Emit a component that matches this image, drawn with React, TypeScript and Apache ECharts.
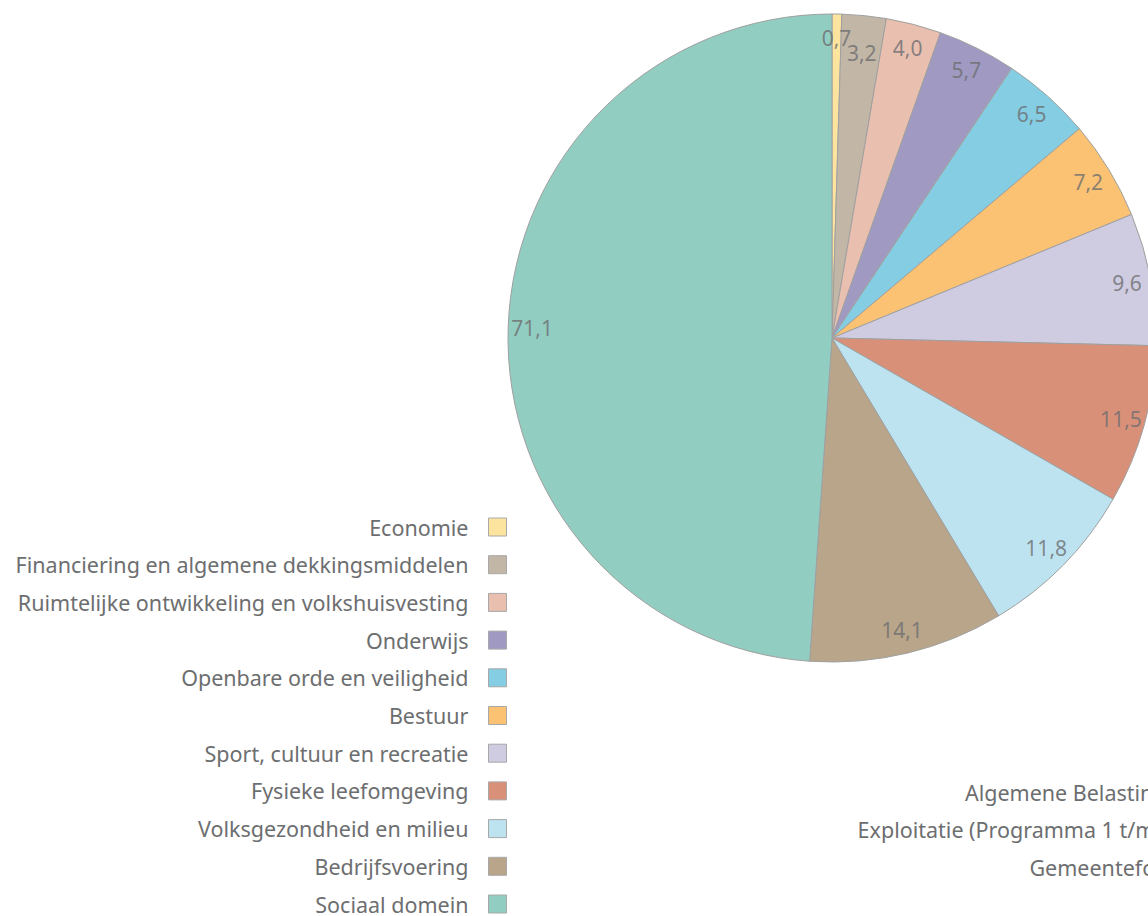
import React, { useEffect, useRef } from "react";
import * as echarts from "echarts";

const categories = [
  "Economie",
  "Financiering en algemene dekkingsmiddelen",
  "Ruimtelijke ontwikkeling en volkshuisvesting",
  "Onderwijs",
  "Openbare orde en veiligheid",
  "Bestuur",
  "Sport, cultuur en recreatie",
  "Fysieke leefomgeving",
  "Volksgezondheid en milieu",
  "Bedrijfsvoering",
  "Sociaal domein",
];
const values = [0.7, 3.2, 4.0, 5.7, 6.5, 7.2, 9.6, 11.5, 11.8, 14.1, 71.1];
const colors = [
  "#fde49e",
  "#c2b6a6",
  "#e9c0b0",
  "#a09ac2",
  "#84cde3",
  "#fbc273",
  "#cfcbe1",
  "#d99078",
  "#bde3f0",
  "#b8a58a",
  "#92cdc2",
];
const otherLegend = [
  "Algemene Belastingen",
  "Exploitatie (Programma 1 t/m 10)",
  "Gemeentefonds",
];

const TEXT = "#6d6e70";
const FONT = "Noto Sans";

export default function App() {
  const ref = useRef<HTMLDivElement>(null);
  useEffect(() => {
    document.body.style.margin = "0";
    const chart = echarts.init(ref.current!, null, { renderer: "svg" });
    const rowY = [792, 829, 867];
    const total = values.reduce((a, b) => a + b, 0);
    const mids: number[] = [];
    let acc = 0;
    values.forEach((v) => {
      mids.push(acc + v / 2);
      acc += v;
    });
    const center = [832, 338];
    const R = 324;
    const placed: any[] = [];
    chart.setOption({
      animation: false,
      polar: { center, radius: R },
      angleAxis: {
        type: "value",
        min: 0,
        max: total,
        startAngle: 90,
        clockwise: true,
        show: false,
      },
      radiusAxis: { type: "value", min: 0, max: R, show: false },
      legend: {
        orient: "vertical",
        align: "right",
        right: 641,
        top: 516,
        height: 440,
        padding: 0,
        itemWidth: 18,
        itemHeight: 18,
        itemGap: 15.7,
        icon: "rect",
        data: categories,
        itemStyle: { borderColor: "#a8a8a8", borderWidth: 1 },
        textStyle: {
          fontFamily: FONT,
          fontSize: 21.5,
          color: TEXT,
          lineHeight: 18,
          padding: [0, 15, 0, 0],
        },
      },
      graphic: otherLegend.map((t, i) => ({
        type: "text",
        style: {
          text: t,
          x: 1192,
          y: rowY[i],
          textAlign: "right",
          textVerticalAlign: "middle",
          fill: TEXT,
          font: `21.5px "${FONT}"`,
        },
      })),
      series: [
        {
          type: "pie",
          center,
          radius: [0, R],
          startAngle: 90,
          clockwise: true,
          label: { show: false },
          labelLine: { show: false },
          itemStyle: { borderColor: "#a0a0a0", borderWidth: 1 },
          data: categories.map((n, i) => ({
            name: n,
            value: values[i],
            itemStyle: { color: colors[i] },
          })),
        },
        {
          type: "scatter",
          coordinateSystem: "polar",
          silent: true,
          symbolSize: 1,
          itemStyle: { color: "rgba(0,0,0,0)" },
          label: {
            show: true,
            position: "inside",
            fontFamily: FONT,
            fontSize: 21,
            color: TEXT,
            formatter: (p: any) =>
              values[p.dataIndex].toFixed(1).replace(".", ","),
          },
          labelLayout: (p: any) => {
            const r = p.labelRect;
            const cx = r.x + r.width / 2;
            let cy = r.y + r.height / 2;
            const prev = placed[p.dataIndex - 1];
            if (
              prev &&
              Math.abs(prev.cx - cx) < (prev.w + r.width) / 2 - 4 &&
              Math.abs(prev.cy - cy) < (prev.h + r.height) / 2
            ) {
              cy = prev.cy + r.height * 0.7;
            }
            placed[p.dataIndex] = { cx, cy, w: r.width, h: r.height };
            return { x: cx, y: cy, align: "center", verticalAlign: "middle" };
          },
          data: mids.map((m) => [300, m]),
        },
      ],
    });
    return () => chart.dispose();
  }, []);
  return <div ref={ref} style={{ width: 1148, height: 916 }} />;
}
